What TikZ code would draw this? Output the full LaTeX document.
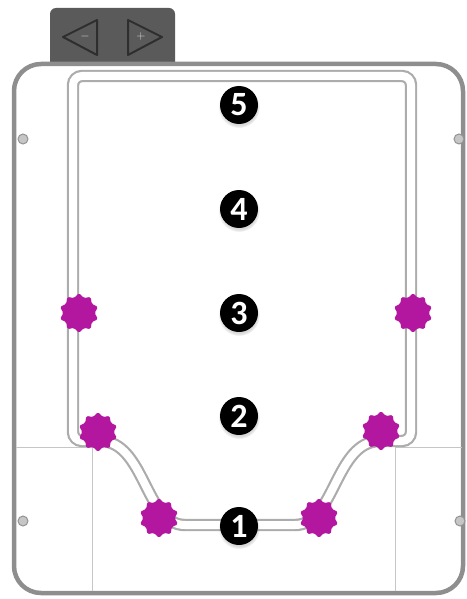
\documentclass[tikz,border=0pt]{standalone}
\usepackage{fontspec}
\setsansfont{Carlito}
\usepackage{xcolor}
\usepackage{tikz}
\usetikzlibrary{shapes.geometric, shadows}
\definecolor{pin}{HTML}{B3179F}
\definecolor{tabgray}{HTML}{5A5A5A}
\definecolor{tabline}{HTML}{2E2E2E}
\definecolor{framegray}{HTML}{8E8E8E}
\tikzset{
  rail/.style={draw=gray!65, double=white, double distance=8pt, line width=2.2pt},
  pinstar/.style={star, star points=10, star point ratio=1.28, fill=pin, rounded corners=1.6pt, minimum size=40pt, inner sep=0pt},
  spot/.style={circle, fill=black, minimum size=38pt, inner sep=0pt, text=white, font=\sffamily\bfseries\fontsize{34}{34}\selectfont, circular drop shadow={shadow xshift=0pt, shadow yshift=-2pt, opacity=0.3}},
  screw/.style={circle, draw=gray!85, fill=gray!45, line width=1pt, minimum size=10pt, inner sep=0pt},
  guide/.style={gray!45, line width=0.9pt},
  arrowkey/.style={draw=tabline, line width=2pt, line join=round},
  sign/.style={text=gray!25, font=\bfseries\fontsize{13}{13}\selectfont, inner sep=0pt},
}

\begin{document}
\begin{tikzpicture}[x=1pt, y=-1pt]
\useasboundingbox (0,0) rectangle (466,599);
% ---- tab with the two keys ----
\fill[tabgray] (50,64) -- (50,14) arc[start angle=180, end angle=90, radius=6pt]
  -- (169,8) arc[start angle=90, end angle=0, radius=6pt] -- (175,64) -- cycle;
\draw[arrowkey] (97,20) -- (63,37) -- (97,55) -- cycle;
\draw[arrowkey] (128,20) -- (162,37) -- (128,55) -- cycle;
\node[sign] (minus) at (85,37) {$-$};
\node[sign] (plus) at (141,37) {$+$};
% ---- housing ----
\draw[framegray, line width=4.5pt, rounded corners=27pt] (14,64) rectangle (463,593);
\draw[guide] (16,447) -- (92,447) -- (92,591);
\draw[guide] (462,447) -- (395,447) -- (395,591);
\node[screw] (s1) at (23,139) {};
\node[screw] (s2) at (459,139) {};
\node[screw] (s3) at (23,521) {};
\node[screw] (s4) at (460,521) {};
% ---- channel ----
\begin{scope}[rounded corners=9pt]
\draw[rail] (100,441) -- (73,441) -- (73,76) -- (411,76) -- (411,441) -- (380,441);
\end{scope}
\draw[rail] (380,441) .. controls (335,441) and (335,525) .. (295,525) -- (185,525)
  .. controls (145,525) and (145,441) .. (100,441);
% pins along the channel
\node[pinstar] (pa) at (79,313) {};
\node[pinstar] (pb) at (413,313) {};
\node[pinstar] (pc) at (98,432) {};
\node[pinstar] (pd) at (381,431) {};
\node[pinstar] (pe) at (159,518) {};
\node[pinstar] (pf) at (319,518) {};
% ---- numbered positions ----
\node[spot] (n5) at (239,105) {5};
\node[spot] (n4) at (239,209) {4};
\node[spot] (n3) at (239,313) {3};
\node[spot] (n2) at (239,416) {2};
\node[spot] (n1) at (239,526) {1};
\end{tikzpicture}
\end{document}
